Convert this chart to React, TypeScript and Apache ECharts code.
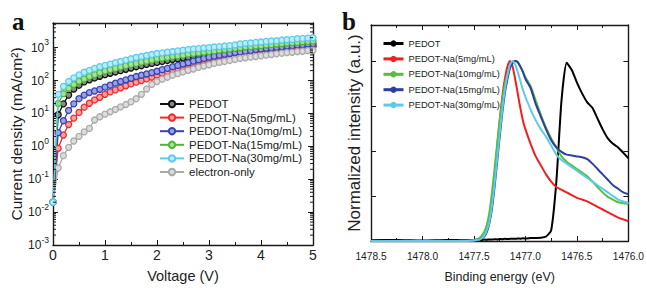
import React, { useEffect, useRef } from 'react';
import * as echarts from 'echarts';

// ---------- Panel a: J–V curves ----------
const VOLTAGE = [0, 0.1, 0.2, 0.3, 0.4, 0.5, 0.6, 0.7, 0.8, 0.9, 1.0, 1.1, 1.2, 1.3, 1.4, 1.5, 1.6, 1.7, 1.8, 1.9, 2.0, 2.1, 2.2, 2.3, 2.4, 2.5, 2.6, 2.7, 2.8, 2.9, 3.0, 3.1, 3.2, 3.3, 3.4, 3.5, 3.6, 3.7, 3.8, 3.9, 4.0, 4.1, 4.2, 4.3, 4.4, 4.5, 4.6, 4.7, 4.8, 4.9, 5.0];

const J_PEDOT = [0.02, 9.1, 19.5, 36, 55, 72, 91, 105, 120, 135, 151, 166, 182, 200, 219, 240, 263, 282, 309, 331, 355, 380, 407, 437, 457, 490, 513, 550, 575, 603, 631, 661, 692, 708, 741, 759, 794, 813, 832, 851, 871, 891, 912, 933, 955, 977, 1000, 1023, 1047, 1072, 1096];
const J_NA5 = [0.02, 0.87, 2.2, 4.6, 7.2, 10.7, 15.5, 20.4, 25.7, 31, 38, 45, 52, 60, 69, 79, 89, 100, 112, 126, 148, 166, 186, 209, 234, 263, 295, 331, 372, 407, 457, 501, 537, 589, 631, 676, 724, 759, 794, 832, 871, 912, 933, 977, 1000, 1023, 1047, 1072, 1096, 1122, 1148];
const J_NA10 = [0.02, 2.6, 6.0, 12.3, 19.5, 28, 36, 43, 48, 54, 63, 72, 83, 93, 105, 117, 132, 145, 158, 174, 191, 214, 234, 263, 288, 316, 347, 389, 427, 468, 513, 550, 589, 631, 661, 708, 741, 776, 813, 871, 912, 955, 977, 1023, 1072, 1122, 1148, 1202, 1230, 1288, 1318];
const J_NA15 = [0.02, 20, 40, 58, 76, 95, 112, 132, 151, 174, 195, 214, 234, 257, 282, 309, 331, 363, 389, 417, 457, 479, 501, 537, 562, 589, 631, 661, 692, 724, 759, 794, 832, 871, 912, 955, 1000, 1047, 1072, 1122, 1148, 1202, 1230, 1288, 1318, 1380, 1413, 1445, 1514, 1549, 1585];
const J_NA30 = [0.02, 38, 66, 93, 120, 148, 178, 204, 234, 263, 288, 316, 347, 380, 417, 457, 501, 537, 575, 617, 661, 692, 724, 759, 794, 832, 871, 912, 933, 977, 1000, 1047, 1072, 1122, 1148, 1202, 1288, 1349, 1380, 1445, 1479, 1549, 1585, 1622, 1698, 1738, 1778, 1862, 1905, 1950, 1995];
const J_ELECTRON = [0.02, 0.22, 0.52, 0.93, 1.45, 2.0, 2.75, 3.5, 6.3, 7.9, 9.5, 11.2, 13.2, 15.8, 18.6, 22.4, 28, 38, 55, 76, 93, 110, 126, 145, 162, 182, 204, 224, 251, 275, 302, 331, 355, 380, 407, 437, 468, 490, 513, 537, 562, 589, 617, 646, 676, 708, 724, 759, 776, 813, 832];

const NAMES_A = ['PEDOT', 'PEDOT-Na(5mg/mL)', 'PEDOT-Na(10mg/mL)', 'PEDOT-Na(15mg/mL)', 'PEDOT-Na(30mg/mL)', 'electron-only'];
const COLORS_A = ['#111111', '#f02a2a', '#3542b8', '#4cb636', '#5ccbea', '#a9a9a9'];
const FILLS_A = ['#8a8a8a', '#f8a0a0', '#9aa2e0', '#a8e098', '#b8ecf8', '#dcdcdc'];

// ---------- Panel b: XPS spectra ----------
const ENERGY = [1478.5, 1478.25, 1478.0, 1477.75, 1477.6, 1477.5, 1477.45, 1477.425, 1477.4, 1477.375, 1477.35, 1477.325, 1477.3, 1477.275, 1477.25, 1477.225, 1477.2, 1477.175, 1477.15, 1477.125, 1477.1, 1477.075, 1477.05, 1477.025, 1477.0, 1476.95, 1476.9, 1476.85, 1476.8, 1476.75, 1476.7, 1476.65, 1476.6, 1476.55, 1476.5, 1476.45, 1476.4, 1476.35, 1476.3, 1476.25, 1476.2, 1476.15, 1476.1, 1476.05, 1476.0];

const I_PEDOT = [0.004, 0.006, 0.003, 0.006, 0.004, 0.006, 0.008, 0.006, 0.008, 0.007, 0.009, 0.008, 0.01, 0.009, 0.011, 0.01, 0.012, 0.011, 0.012, 0.013, 0.012, 0.014, 0.013, 0.015, 0.014, 0.016, 0.017, 0.018, 0.025, 0.06, 0.33, 0.78, 0.99, 0.95, 0.88, 0.82, 0.77, 0.74, 0.68, 0.62, 0.57, 0.54, 0.52, 0.49, 0.46];
const I_NA5 = [0, 0, 0, 0, 0, 0.003, 0.008, 0.015, 0.03, 0.06, 0.12, 0.22, 0.36, 0.52, 0.67, 0.8, 0.9, 0.97, 1.0, 0.97, 0.9, 0.82, 0.74, 0.67, 0.62, 0.54, 0.47, 0.42, 0.37, 0.33, 0.30, 0.285, 0.27, 0.255, 0.24, 0.23, 0.22, 0.205, 0.19, 0.175, 0.16, 0.145, 0.13, 0.12, 0.11];
const I_NA10 = [0, 0, 0, 0, 0, 0.005, 0.015, 0.03, 0.05, 0.09, 0.16, 0.27, 0.40, 0.54, 0.67, 0.78, 0.87, 0.93, 0.97, 0.99, 1.0, 0.99, 0.97, 0.94, 0.91, 0.86, 0.78, 0.70, 0.63, 0.57, 0.52, 0.47, 0.44, 0.42, 0.40, 0.38, 0.36, 0.33, 0.30, 0.27, 0.245, 0.23, 0.215, 0.21, 0.205];
const I_NA15 = [0, 0, 0, 0, 0, 0.003, 0.008, 0.015, 0.025, 0.05, 0.1, 0.18, 0.3, 0.44, 0.58, 0.71, 0.82, 0.9, 0.96, 0.99, 1.0, 0.995, 0.97, 0.94, 0.9, 0.85, 0.76, 0.69, 0.62, 0.56, 0.52, 0.495, 0.48, 0.475, 0.47, 0.465, 0.455, 0.43, 0.40, 0.37, 0.34, 0.31, 0.29, 0.27, 0.26];
const I_NA30 = [0, 0, 0, 0, 0, 0.003, 0.008, 0.015, 0.03, 0.06, 0.11, 0.2, 0.32, 0.46, 0.6, 0.73, 0.84, 0.92, 0.98, 1.0, 0.98, 0.94, 0.89, 0.84, 0.8, 0.73, 0.67, 0.62, 0.58, 0.53, 0.48, 0.45, 0.43, 0.41, 0.39, 0.37, 0.35, 0.33, 0.31, 0.29, 0.27, 0.25, 0.23, 0.22, 0.21];

const NAMES_B = ['PEDOT ', 'PEDOT-Na(5mg/mL) ', 'PEDOT-Na(10mg/mL) ', 'PEDOT-Na(15mg/mL) ', 'PEDOT-Na(30mg/mL) '];
const COLORS_B = ['#000000', '#f02020', '#52bf3e', '#2c3f9e', '#5ccbea'];

const SANS = "'Liberation Sans', Arial, sans-serif";
const AXIS_COLOR = '#1a1a1a';
const TEXT_COLOR = '#222222';

export default function App() {
  const ref = useRef<HTMLDivElement>(null);

  useEffect(() => {
    if (!ref.current) return;
    const chart = echarts.init(ref.current, undefined, { renderer: 'svg' });

    const seriesA = [J_PEDOT, J_NA5, J_NA10, J_NA15, J_NA30, J_ELECTRON].map((arr, k) => ({
      name: NAMES_A[k],
      type: 'line',
      xAxisIndex: 0,
      yAxisIndex: 0,
      data: VOLTAGE.map((v, i) => [v, arr[i]]),
      symbol: 'circle',
      symbolSize: 6,
      lineStyle: { color: COLORS_A[k], width: 1.3 },
      itemStyle: { color: FILLS_A[k], borderColor: COLORS_A[k], borderWidth: 1.3 },
      z: k === 4 ? 4 : 2,
    }));

    const seriesB = [I_PEDOT, I_NA5, I_NA10, I_NA15, I_NA30].map((arr, k) => ({
      name: NAMES_B[k],
      type: 'line',
      xAxisIndex: 2,
      yAxisIndex: 2,
      data: ENERGY.map((e, i) => [e, arr[i]]),
      symbol: 'none',
      showSymbol: false,
      smooth: 0.2,
      lineStyle: { color: COLORS_B[k], width: 2 },
      itemStyle: { color: COLORS_B[k] },
    }));

    // log minor tick positions (2..9 x 10^n) for panel a's y axes
    const minorLog: number[][] = [];
    for (let e = -3; e <= 3; e++) {
      for (let m = 2; m <= 9; m++) {
        const v = m * Math.pow(10, e);
        if (v < 5600) minorLog.push([0, v]);
      }
    }

    const tickSide = { show: true, inside: true, length: 5, lineStyle: { color: AXIS_COLOR, width: 1 } };
    const axisLine = { show: true, onZero: false, lineStyle: { color: AXIS_COLOR, width: 1.4 } };
    const minorX = { show: true, splitNumber: 2, length: 3, lineStyle: { color: AXIS_COLOR } };

    const option: any = {
      animation: false,
      backgroundColor: '#ffffff',
      graphic: [
        { type: 'text', left: 12, top: 9, style: { text: 'a', font: "bold 25px 'Liberation Serif', serif", fill: '#111' } },
        { type: 'text', left: 342, top: 9, style: { text: 'b', font: "bold 25px 'Liberation Serif', serif", fill: '#111' } },
      ],
      grid: [
        { left: 53, top: 23, width: 260, height: 225 },
        { left: 371, top: 25, width: 259, height: 223 },
      ],
      legend: [
        {
          orient: 'vertical',
          left: 154,
          top: 93,
          itemWidth: 24,
          itemHeight: 8,
          itemGap: 1.6,
          data: NAMES_A,
          textStyle: { fontFamily: SANS, fontSize: 11.5, color: TEXT_COLOR },
        },
        {
          orient: 'vertical',
          left: 377,
          top: 34,
          itemWidth: 20,
          itemHeight: 8,
          itemGap: 6.4,
          data: NAMES_B,
          lineStyle: { width: 3 },
          textStyle: { fontFamily: SANS, fontSize: 9.3, color: TEXT_COLOR },
        },
      ],
      xAxis: [
        {
          gridIndex: 0, type: 'value', position: 'bottom', min: 0, max: 5, interval: 1,
          axisLine, axisTick: tickSide, minorTick: minorX,
          splitLine: { show: false },
          axisLabel: { fontFamily: SANS, fontSize: 14, color: TEXT_COLOR, margin: 3 },
          name: 'Voltage (V)', nameLocation: 'middle', nameGap: 23,
          nameTextStyle: { fontFamily: SANS, fontSize: 14.5, color: TEXT_COLOR },
        },
        {
          gridIndex: 0, type: 'value', position: 'top', min: 0, max: 5, interval: 1,
          axisLine, axisTick: tickSide, minorTick: minorX,
          splitLine: { show: false }, axisLabel: { show: false },
        },
        {
          gridIndex: 1, type: 'value', position: 'bottom', min: 1476, max: 1478.5, interval: 0.5, inverse: true,
          axisLine, axisTick: tickSide, minorTick: minorX,
          splitLine: { show: false },
          axisLabel: { fontFamily: SANS, fontSize: 10.2, color: TEXT_COLOR, margin: 10, formatter: (v: number) => v.toFixed(1) },
          name: 'Binding energy (eV)', nameLocation: 'middle', nameGap: 29,
          nameTextStyle: { fontFamily: SANS, fontSize: 12.5, color: TEXT_COLOR },
        },
        {
          gridIndex: 1, type: 'value', position: 'top', min: 1476, max: 1478.5, interval: 0.5, inverse: true,
          axisLine, axisTick: tickSide, minorTick: minorX,
          splitLine: { show: false }, axisLabel: { show: false },
        },
      ],
      yAxis: [
        {
          gridIndex: 0, type: 'log', logBase: 10, min: 0.001, max: 5600, position: 'left',
          axisLine, axisTick: tickSide, splitLine: { show: false },
          axisLabel: {
            margin: 4,
            color: TEXT_COLOR,
            formatter: (v: number) => {
              const e = Math.log10(v);
              const r = Math.round(e);
              if (Math.abs(e - r) > 1e-6 || r > 3) return '';
              return '{b|10}{s|' + r + '}';
            },
            rich: {
              b: { fontFamily: SANS, fontSize: 12, lineHeight: 20, color: TEXT_COLOR, verticalAlign: 'middle' },
              s: { fontFamily: SANS, fontSize: 8.5, lineHeight: 10, color: TEXT_COLOR, verticalAlign: 'top' },
            },
          },
          name: 'Current density (mA/cm²)', nameLocation: 'middle', nameGap: 28,
          nameTextStyle: { fontFamily: SANS, fontSize: 15.5, color: TEXT_COLOR },
        },
        {
          gridIndex: 0, type: 'log', logBase: 10, min: 0.001, max: 5600, position: 'right',
          axisLine, axisTick: tickSide, splitLine: { show: false }, axisLabel: { show: false },
        },
        {
          gridIndex: 1, type: 'value', min: 0, max: 1.2, interval: 0.25, position: 'left',
          axisLine, axisTick: tickSide, splitLine: { show: false }, axisLabel: { show: false },
          name: 'Normalized intensity (a.u.)', nameLocation: 'middle', nameGap: 8,
          nameTextStyle: { fontFamily: SANS, fontSize: 17, color: TEXT_COLOR },
        },
        {
          gridIndex: 1, type: 'value', min: 0, max: 1.2, interval: 0.25, position: 'right',
          axisLine, axisTick: tickSide, splitLine: { show: false }, axisLabel: { show: false },
        },
      ],
      series: [
        ...seriesA,
        {
          type: 'custom',
          name: 'minorLogTicks',
          xAxisIndex: 0,
          yAxisIndex: 0,
          silent: true,
          z: 5,
          data: minorLog,
          renderItem: (params: any, api: any) => {
            const pL = api.coord([0, api.value(1)]);
            const pR = api.coord([5, api.value(1)]);
            const style = { stroke: AXIS_COLOR, lineWidth: 1 };
            return {
              type: 'group',
              children: [
                { type: 'line', shape: { x1: pL[0], y1: pL[1], x2: pL[0] + 3, y2: pL[1] }, style },
                { type: 'line', shape: { x1: pR[0] - 3, y1: pR[1], x2: pR[0], y2: pR[1] }, style },
              ],
            };
          },
        },
        ...seriesB,
      ],
    };

    chart.setOption(option);
    return () => chart.dispose();
  }, []);

  return (
    <div
      ref={ref}
      style={{ position: 'fixed', left: 0, top: 0, width: 647, height: 288, background: '#fff' }}
    />
  );
}
